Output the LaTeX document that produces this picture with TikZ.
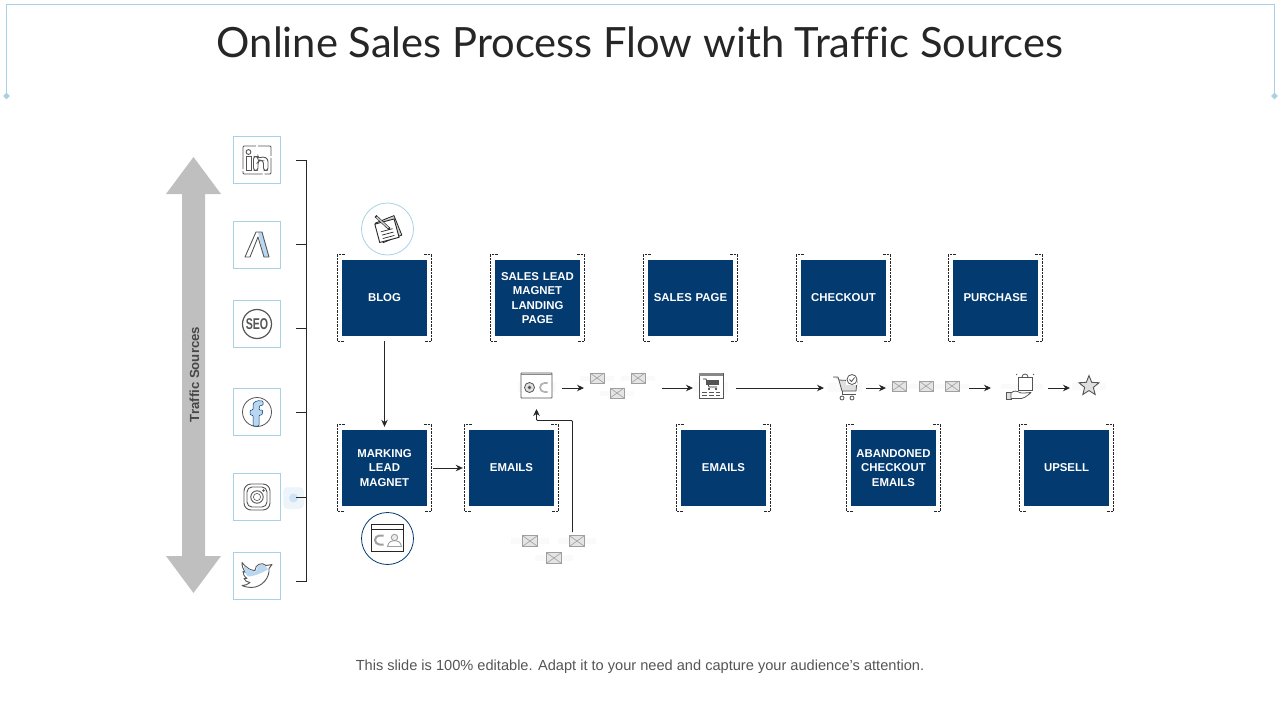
\documentclass[tikz,border=0pt]{standalone}
\usepackage{fontspec}
\setmainfont{Liberation Sans}
\newfontfamily\titlefont[Ligatures=NoCommon]{Lato}
\usepackage{xcolor}
\usepackage{tikz}
\usetikzlibrary{arrows.meta,calc,shapes.geometric}
\definecolor{salesNavy}{HTML}{033A70}
\definecolor{salesInk}{HTML}{262626}
\definecolor{salesFrame}{HTML}{A9D1E6}
\definecolor{salesSky}{HTML}{B9D7F0}
\definecolor{salesArrow}{HTML}{BFBFBF}
\definecolor{salesIcon}{HTML}{555555}
\definecolor{salesMail}{HTML}{E4E4E4}
\tikzset{
  stageBox/.style={
    rectangle,
    fill=salesNavy,
    minimum width=85pt,
    minimum height=76pt,
    align=center,
    text width=80pt,
    text=white,
    inner sep=0pt,
    font=\fontsize{11.4}{14.3}\selectfont\bfseries
  },
  sourceBox/.style={
    rectangle,
    draw=salesFrame,
    line width=0.8pt,
    minimum width=47pt,
    minimum height=47pt,
    inner sep=0pt
  },
  iconRing/.style={
    circle,
    line width=0.8pt,
    minimum size=52pt,
    inner sep=0pt
  },
  cornerMark/.style={
    line width=0.7pt,
    draw=salesInk,
    dash pattern=on 2.5pt off 1pt
  },
  arrow/.style={
    -{Stealth[length=7pt,width=6.5pt]},
    line width=0.9pt,
    draw=salesInk
  },
  busLine/.style={
    line width=0.9pt,
    draw=salesInk
  },
  iconLine/.style={
    line width=0.9pt,
    draw=salesIcon
  },
  mailIcon/.pic={
    \fill[gray!4] (-17,-2.5) rectangle (17,2.5);
    \draw[line width=0.7pt,draw=gray!75,fill=salesMail] (-7,-5) rectangle (7,5);
    \draw[line width=0.6pt,draw=gray!75] (-7,-5) -- (7,5) (-7,5) -- (7,-5);
  },
  linkedinIcon/.pic={
    \draw[iconLine,rounded corners=1pt,dash pattern=on 22pt off 2pt] (-14,-14) rectangle (14,14);
    \draw[iconLine] (-8.5,-8) circle (2.4);
    \draw[iconLine] (-11,-3.5) rectangle (-6,10.5);
    \draw[iconLine,rounded corners=2.5pt] (-3.5,10.5) -- (-3.5,-3.5) -- (1,-3.5) -- (1,-1.5) -- (6,-3.5) -- (11,-1) -- (11,10.5) -- (6.5,10.5) -- (6.5,1) -- (2.5,0) -- (1,2) -- (1,10.5) -- cycle;
  },
  apexIcon/.pic={
    \fill[salesSky] (1,-13) -- (5,-13) -- (12,12) -- (7,12) -- cycle;
    \draw[iconLine,line join=round] (-12,12) -- (-1,-13) -- (5,-13) -- (12,12) -- (7,12) -- (1,-8) -- (-7,12) -- cycle;
  },
  seoIcon/.pic={
    \draw[line width=1.2pt,draw=salesIcon] (0,0) circle (14.5);
    \node[font=\fontsize{12.5}{14}\selectfont\bfseries,text=salesIcon,inner sep=0pt,xscale=0.85,yscale=1.25] (seoText) at (0,0) {SEO};
  },
  facebookIcon/.pic={
    \draw[iconLine,line width=0.8pt] (0,0) circle (14.5);
    \draw[line width=0.5pt,draw=salesNavy,fill=salesSky,rounded corners=1pt] (-4,14) -- (-4,3) -- (-7,3) -- (-7,-2) -- (-4,-2) -- (-4,-6) .. controls (-4,-10) and (0,-12) .. (6,-11) -- (6,-6.5) .. controls (3,-7) and (2,-6) .. (2,-2) -- (6,-2) -- (5,3) -- (2,3) -- (2,14) -- cycle;
  },
  instagramIcon/.pic={
    \draw[iconLine,rounded corners=7pt] (-13,-13) rectangle (13,13);
    \draw[iconLine,rounded corners=5pt] (-10,-10) rectangle (10,10);
    \draw[iconLine] (0,0) circle (6.2);
    \draw[iconLine,line width=0.6pt] (0,0) circle (3.6);
    \fill[salesIcon] (6.5,-6.5) circle (1.3);
  },
  twitterIcon/.pic={
    \draw[iconLine,fill=white,line join=round] (-15,-13) .. controls (-10,-7) and (-6,-5) .. (-2,-5) .. controls (-2,-11) and (5,-14) .. (9,-10) -- (15,-11) -- (12,-7) .. controls (13,1) and (6,12) .. (-6,12) .. controls (-9,12) and (-13,11) .. (-15,10) .. controls (-12,10) and (-9,9) .. (-7,7) .. controls (-10,7) and (-12,5) .. (-13,3) -- (-10,3) .. controls (-13,1) and (-14,-2) .. (-14,-4) -- (-11,-3) .. controls (-14,-6) and (-15,-9) .. (-15,-13) -- cycle;
    \fill[salesSky] (-13,-10) .. controls (-9,-6) and (-5,-4) .. (-1,-4) .. controls (-1,-10) and (5,-13) .. (9,-9) -- (11,-6) .. controls (4,-2) and (-4,1) .. (-9,1) .. controls (-12,-2) and (-13,-6) .. (-13,-10) -- cycle;
  },
  noteIcon/.pic={
    \draw[line width=0.8pt,draw=salesInk,fill=gray!35,rotate=22] (-9,-10) rectangle (11,11);
    \draw[line width=0.9pt,draw=salesInk,fill=white,rotate=15] (-11,-8) rectangle (9,11);
    \draw[line width=0.7pt,draw=salesInk,rotate=15] (-7,1) -- (5,1) (-7,4.5) -- (5,4.5) (-7,8) -- (5,8);
    \draw[line width=2.6pt,draw=salesInk] (-12,-13) -- (2,0);
    \draw[line width=1.4pt,draw=gray!40] (-11,-12) -- (1,-1);
  },
  magnetIcon/.pic={
    \draw[line width=0.9pt,draw=salesInk,fill=white] (-16,-14) rectangle (16,13);
    \draw[line width=0.9pt,draw=salesInk] (-16,-9.5) -- (16,-9.5);
    \draw[line width=2pt,draw=gray!75] (-4,-3) -- (-8,-3) arc (270:90:4.5) -- (-4,6);
    \draw[line width=0.9pt,draw=gray!75,fill=gray!15] (7,-1) circle (3.2);
    \draw[line width=0.9pt,draw=gray!75] (0,8) .. controls (1,3) and (4,2) .. (7,2) .. controls (10,2) and (13,3) .. (14,8) -- cycle;
  },
  browserIcon/.pic={
    \fill[gray!4] (-19,-4) rectangle (19,6);
    \draw[line width=0.8pt,draw=salesIcon,fill=white,rounded corners=0.5pt] (-15.5,-13) rectangle (15.5,12);
    \draw[line width=1.6pt,draw=salesIcon!70] (-15.5,-11.5) -- (15.5,-11.5);
    \draw[line width=0.8pt,draw=salesIcon,fill=gray!25] (-7,1.5) circle (5);
    \fill[salesIcon] (-7,1.5) circle (1.8);
    \draw[line width=1.7pt,draw=gray!60] (11,-3) -- (8,-3) arc (270:90:4.5) -- (11,6);
  },
  shopPageIcon/.pic={
    \fill[gray!4] (-17,-4) rectangle (17,6);
    \draw[line width=0.8pt,draw=salesIcon,fill=white] (-12,-13) rectangle (12,12);
    \fill[salesIcon!70] (-12,-13) rectangle (12,-10.5);
    \draw[line width=0.7pt,draw=salesInk] (-8,-7) -- (-5,-7) -- (-2,1) -- (6,1);
    \fill[salesIcon] (-5,-6) rectangle (8,-1);
    \fill[salesInk] (-2,3) circle (1.1) (5,3) circle (1.1);
    \draw[line width=0.7pt,draw=salesIcon] (-9,6) -- (-4,6) (-2,6) -- (3,6) (5,6) -- (9,6) (-9,9) -- (-4,9) (-2,9) -- (3,9) (5,9) -- (9,9);
  },
  cartIcon/.pic={
    \fill[gray!4] (-17,-4) rectangle (17,5);
    \draw[line width=0.8pt,draw=salesIcon,fill=gray!25,line join=round] (-12,-10) -- (-7,-10) -- (-3,4) -- (11,4) -- (12,-6) -- (-6,-7);
    \fill[white] (1,-12) rectangle (12,-2);
    \draw[line width=0.8pt,draw=salesIcon,fill=white] (7,-7.5) circle (5);
    \draw[line width=0.8pt,draw=salesIcon] (4.5,-7.5) -- (6.5,-5.5) -- (9.5,-9.5);
    \draw[line width=0.8pt,draw=salesIcon] (-3,4) -- (-3,7.5) -- (11,7.5);
    \draw[line width=0.8pt,draw=salesIcon] (-3,11) circle (2) (7,11) circle (2);
  },
  handBagIcon/.pic={
    \fill[gray!4] (-18,-2) rectangle (24,3);
    \draw[line width=0.8pt,draw=salesIcon,fill=white] (-1,-9) rectangle (13,4);
    \draw[line width=0.8pt,draw=salesIcon] (3,-9) arc (180:360:3);
    \draw[line width=0.7pt,draw=salesIcon,dash pattern=on 1.5pt off 1.5pt] (-3,-11) -- (-1,-13) (15,-11) -- (13,-13);
    \draw[line width=0.8pt,draw=salesIcon,fill=gray!25] (-13,6) rectangle (-8,13.5);
    \draw[line width=0.8pt,draw=salesIcon,fill=white,line join=round] (-8,7) .. controls (-5,4) and (-2,5) .. (2,7) -- (5,7) .. controls (8,7) and (10,6.5) .. (12,6.5) .. controls (8,10) and (4,13.5) .. (-1,12.5) -- (-8,12.5) -- cycle;
  },
  starIcon/.pic={
    \fill[gray!4] (-17,-3) rectangle (17,4);
    \node[star,star points=5,star point ratio=2.3,draw=salesIcon,fill=gray!25,line width=0.9pt,minimum size=21pt,inner sep=0pt] (starShape) at (0,0) {};
  }
}
\begin{document}
\begin{tikzpicture}[x=1pt,y=-1pt]
  \useasboundingbox (0,0) rectangle (1280,720);
  % header frame
  \draw[line width=0.8pt,draw=salesFrame] (6.5,96) -- (6.5,4.5) -- (1274.5,4.5) -- (1274.5,96);
  \node[diamond,fill=salesFrame,minimum size=7pt,inner sep=0pt] (frameLeft) at (6.5,96) {};
  \node[diamond,fill=salesFrame,minimum size=7pt,inner sep=0pt] (frameRight) at (1274.5,96) {};
  \node[font=\fontsize{41.7}{48}\selectfont\titlefont,text=salesInk] (title) at (640,42) {Online Sales Process Flow with Traffic Sources};
  \node[font=\fontsize{14.6}{17}\selectfont,text=salesIcon] (footer) at (640,667) {This slide is 100\% editable. Adapt it to your need and capture your audience's attention.};
  % traffic arrow
  \fill[salesArrow] (193.5,157) -- (221,194) -- (205,194) -- (205,556) -- (221,556) -- (193.5,593) -- (166,556) -- (182,556) -- (182,194) -- (166,194) -- cycle;
  \node[rotate=90,font=\fontsize{13.2}{15}\selectfont\bfseries,text=salesInk!85] (trafficLabel) at (194.5,374.5) {Traffic Sources};
  % sources
  \node[sourceBox] (linkedinBox) at (257,160) {};
  \node[sourceBox] (apexBox) at (257,245) {};
  \node[sourceBox] (seoBox) at (257,324) {};
  \node[sourceBox] (facebookBox) at (257,412) {};
  \node[sourceBox] (instagramBox) at (257,497) {};
  \node[sourceBox] (twitterBox) at (257,575.5) {};
  \pic at (linkedinBox) {linkedinIcon};
  \pic at (apexBox) {apexIcon};
  \pic at (seoBox) {seoIcon};
  \pic at (facebookBox) {facebookIcon};
  \pic at (instagramBox) {instagramIcon};
  \pic at (twitterBox) {twitterIcon};
  \node[rectangle,rounded corners=4pt,fill=salesSky!25,draw=salesSky!40,minimum width=20pt,minimum height=21pt,inner sep=0pt] (glowBox) at (293.5,498) {};
  \fill[salesSky!70] (glowBox) circle (4.5);
  % source bus
  \coordinate (busTop) at (306.5,160);
  \coordinate (busBottom) at (306.5,581);
  \draw[busLine] (busTop) -- (busBottom);
  \foreach \tickname/\ticky in {tickA/160,tickB/244,tickC/328,tickD/412,tickE/497,tickF/581}{
    \coordinate (\tickname) at (296,\ticky);
    \draw[busLine] (\tickname) -- (\tickname -| busTop);
  }
  % stages
  \node[stageBox] (blog) at (384.5,298) {BLOG};
  \node[stageBox] (landing) at (537.5,298) {SALES LEAD\\MAGNET\\LANDING\\PAGE};
  \node[stageBox] (salesPage) at (690.5,298) {SALES PAGE};
  \node[stageBox] (checkout) at (843.5,298) {CHECKOUT};
  \node[stageBox] (purchase) at (995.5,298) {PURCHASE};
  \node[stageBox] (marking) at (384.5,468) {MARKING\\LEAD\\MAGNET};
  \node[stageBox] (emailsA) at (511.5,468) {EMAILS};
  \node[stageBox] (emailsB) at (723.5,468) {EMAILS};
  \node[stageBox] (abandoned) at (893.5,468) {ABANDONED\\CHECKOUT\\EMAILS};
  \node[stageBox] (upsell) at (1066.5,468) {UPSELL};
  \foreach \boxname in {blog,landing,salesPage,checkout,purchase,marking,emailsA,emailsB,abandoned,upsell}{
    \draw[cornerMark] ($(\boxname.north west)+(3,-5)$) -- ($(\boxname.north west)+(-4.5,-5)$) -- ($(\boxname.south west)+(-4.5,5)$) -- ($(\boxname.south west)+(3,5)$);
    \draw[cornerMark] ($(\boxname.north east)+(-3,-5)$) -- ($(\boxname.north east)+(4.5,-5)$) -- ($(\boxname.south east)+(4.5,5)$) -- ($(\boxname.south east)+(-3,5)$);
  }
  % rings
  \node[iconRing,draw=salesFrame] (blogRing) at (387.5,229) {};
  \node[iconRing,draw=salesNavy] (magnetRing) at (387.5,538.5) {};
  \pic at (blogRing) {noteIcon};
  \pic at (magnetRing) {magnetIcon};
  % icon row
  \coordinate (browser) at (536.5,386);
  \coordinate (mailRowA) at (597,378);
  \coordinate (mailRowB) at (638,378);
  \coordinate (mailRowC) at (617,393);
  \coordinate (shopPage) at (711,386);
  \coordinate (cart) at (845,387);
  \coordinate (mailRowD) at (899,386);
  \coordinate (mailRowE) at (926,386);
  \coordinate (mailRowF) at (952,386);
  \coordinate (handBag) at (1019,386);
  \coordinate (starMark) at (1089,386);
  \coordinate (mailLowA) at (530,541);
  \coordinate (mailLowB) at (577,541);
  \coordinate (mailLowC) at (554,558);
  \pic at (browser) {browserIcon};
  \foreach \mailname in {mailRowA,mailRowB,mailRowC,mailRowD,mailRowE,mailRowF}{
    \pic at (\mailname) {mailIcon};
  }
  \foreach \mailname in {mailLowA,mailLowB,mailLowC}{
    \pic[scale=1.12] at (\mailname) {mailIcon};
  }
  \pic at (shopPage) {shopPageIcon};
  \pic at (cart) {cartIcon};
  \pic at (handBag) {handBagIcon};
  \pic at (starMark) {starIcon};
  % connectors
  \draw[arrow,shorten <=5pt,shorten >=3pt] (blog) -- (marking);
  \draw[arrow,shorten <=6pt,shorten >=6pt] (marking) -- (emailsA);
  \coordinate (rowStartA) at (562,388);
  \coordinate (rowEndA) at (584,388);
  \coordinate (rowStartB) at (662,388);
  \coordinate (rowEndB) at (693,388);
  \coordinate (rowStartC) at (736,388);
  \coordinate (rowEndC) at (824,388);
  \coordinate (rowStartD) at (866,388);
  \coordinate (rowEndD) at (886,388);
  \coordinate (rowStartE) at (969,388);
  \coordinate (rowEndE) at (991,388);
  \coordinate (rowStartF) at (1048,388);
  \coordinate (rowEndF) at (1070,388);
  \foreach \rowname in {A,B,C,D,E,F}{
    \draw[arrow] (rowStart\rowname) -- (rowEnd\rowname);
  }
  \coordinate (mailRiser) at (572.5,532);
  \coordinate (browserTip) at (536.5,409);
  \draw[arrow,rounded corners=1pt] (mailRiser) |- (536.5,420.5) -- (browserTip);
\end{tikzpicture}
\end{document}
